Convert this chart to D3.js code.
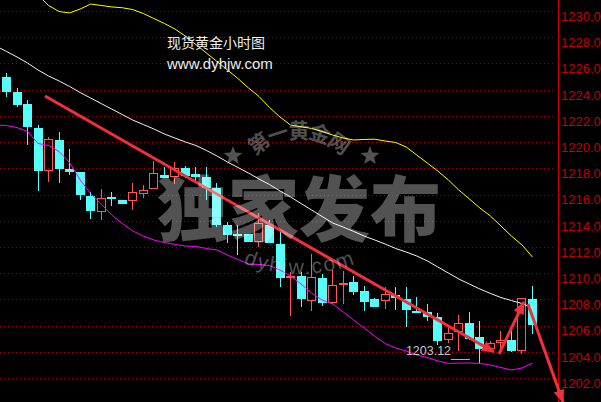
<!DOCTYPE html>
<html><head><meta charset="utf-8">
<script src="https://cdn.jsdelivr.net/npm/d3@7"></script>
<style>html,body{margin:0;padding:0;background:#000;overflow:hidden}</style>
</head><body>
<svg id="c" width="601" height="402"></svg>
<script>
// ---- data (XAU/USD hourly candles) ----
const opens  = [1224.96,1223.82,1222.90,1221.07,1217.79,1220.16,1217.95,1217.72,1215.89,1214.66,
                1215.81,1215.58,1215.50,1216.04,1216.42,1217.49,1217.34,1218.02,1217.56,1217.34,
                1216.50,1213.67,1212.99,1212.99,1212.38,1213.67,1212.22,1209.71,1209.78,1207.87,
                1209.63,1207.72,1209.10,1209.32,1208.64,1208.03,1207.87,1208.33,1208.03,1207.11,
                1207.04,1206.65,1204.90,1205.51,1206.20,1205.13,1204.21,1204.67,1204.90,1204.06,1208.03];
const highs  = [1225.27,1224.13,1223.21,1221.30,1220.39,1220.77,1219.47,1217.72,1216.19,1216.42,
                1216.19,1215.58,1216.88,1216.72,1218.56,1218.10,1218.48,1218.17,1218.10,1218.10,
                1216.88,1213.90,1213.67,1212.99,1214.59,1214.05,1213.29,1210.09,1210.09,1211.46,
                1209.93,1210.24,1210.16,1209.78,1209.02,1208.10,1208.94,1208.94,1208.94,1208.18,
                1207.65,1206.96,1206.04,1206.81,1207.04,1206.35,1204.82,1205.59,1205.59,1208.10,1209.02];
const lows   = [1223.44,1222.68,1219.78,1216.27,1216.95,1216.88,1217.49,1215.58,1214.13,1214.05,
                1215.12,1215.28,1214.82,1215.73,1216.42,1217.26,1216.80,1217.26,1216.88,1215.58,
                1213.52,1212.30,1211.38,1212.38,1211.99,1212.30,1208.94,1206.73,1207.42,1207.11,
                1207.49,1207.65,1207.65,1208.33,1207.11,1207.42,1207.26,1207.19,1205.89,1207.04,
                1206.35,1204.52,1204.67,1204.06,1204.90,1203.12,1204.13,1203.83,1203.98,1203.83,1205.36];
const closes = [1223.82,1222.83,1221.15,1217.79,1220.23,1217.95,1217.72,1215.96,1214.74,1215.73,
                1215.66,1215.28,1216.19,1216.34,1217.64,1217.26,1218.02,1217.41,1217.33,1216.50,
                1213.67,1212.91,1212.91,1212.38,1213.83,1212.30,1209.63,1209.79,1208.03,1209.71,
                1207.72,1209.10,1209.25,1208.56,1207.80,1207.42,1208.41,1208.10,1207.19,1207.04,
                1206.65,1204.82,1205.43,1206.20,1204.97,1204.21,1204.67,1204.90,1204.06,1208.10,1206.04];
// indicator lines, first value belongs to the bar before the first visible candle
const midLine   = [1227.33,1226.91,1226.49,1226.03,1225.50,1225.04,1224.66,1224.24,1223.78,1223.36,1222.94,
                   1222.52,1222.10,1221.68,1221.34,1221.00,1220.62,1220.31,1220.01,1219.74,1219.36,
                   1218.94,1218.48,1218.06,1217.64,1217.18,1216.76,1216.27,1215.81,1215.31,1214.82,
                   1214.32,1213.83,1213.52,1213.18,1212.83,1212.53,1212.22,1211.88,1211.61,1211.31,
                   1210.93,1210.47,1210.01,1209.55,1209.17,1208.79,1208.45,1208.14,1207.91,1207.68,1207.34];
const upperLine = [1234.65,1233.89,1233.13,1232.21,1231.22,1230.42,1229.96,1229.85,1230.15,1230.53,1230.42,
                   1230.31,1230.25,1230.11,1229.81,1229.43,1229.05,1228.63,1228.09,1227.44,1226.80,
                   1226.15,1225.50,1224.85,1224.13,1223.48,1222.64,1221.91,1221.30,1221.17,1221.04,
                   1220.81,1220.54,1220.31,1220.16,1220.20,1220.22,1220.08,1219.97,1219.62,1219.01,
                   1218.40,1217.79,1217.11,1216.34,1215.66,1214.97,1214.36,1213.60,1212.83,1212.15,1211.23];
const lowerLine = [1221.30,1221.26,1221.11,1220.81,1219.89,1219.74,1219.28,1218.44,1217.11,1216.08,1215.28,
                   1214.44,1213.79,1213.22,1212.83,1212.53,1212.34,1212.19,1212.07,1212.03,1211.88,
                   1211.77,1211.38,1211.04,1210.70,1210.66,1210.58,1210.24,1209.78,1209.17,1208.48,
                   1207.95,1207.65,1207.04,1206.42,1205.81,1205.20,1204.63,1204.29,1204.06,1203.75,
                   1203.56,1203.30,1203.11,1203.14,1203.14,1203.11,1202.99,1202.80,1202.61,1202.76,1203.14];
const yTicks = [1202,1204,1206,1208,1210,1212,1214,1216,1218,1220,1222,1224,1226,1228,1230];
// hand-drawn arrows (bar index, price)
const arrowFrom = [[3.66,1223.51],[46.82,1203.83],[49.57,1207.65]];
const arrowTo   = [[46.34,1203.98],[49.19,1207.80],[52.90,1200.17]];
const titleText = "现货黄金小时图";
const siteText = "www.dyhjw.com";
const lowLabel = "1203.12";
const wmArc = ["第","一","黄","金","网"];
const wmMain = "独家发布";
const wmSite = "dyhjw.com";

// ---- drawing ----
const W = 601, H = 402, plotRight = 557, axisX = 558;
const svg = d3.select("#c");
svg.append("rect").attr("width", W).attr("height", H).attr("fill", "#000");

const x = d3.scaleLinear().domain([0, 50]).range([6.5, 532.5]);
const y = d3.scaleLinear().domain([1202, 1230]).range([378, 11]);

const defs = svg.append("defs");
defs.append("clipPath").attr("id", "plot").append("rect")
  .attr("x", 0).attr("y", 0).attr("width", plotRight).attr("height", H);
defs.append("marker").attr("id", "ah").attr("viewBox", "0 0 13 11")
  .attr("refX", 12).attr("refY", 5.5).attr("markerWidth", 13).attr("markerHeight", 11)
  .attr("markerUnits", "userSpaceOnUse").attr("orient", "auto")
  .append("path").attr("d", "M0,0 L13,5.5 L0,11 Z").attr("fill", "#f2303c");

// grid
svg.append("g").selectAll("line").data(yTicks).join("line")
  .attr("x1", 0).attr("x2", plotRight - 1)
  .attr("y1", d => Math.round(y(d)) + 0.5).attr("y2", d => Math.round(y(d)) + 0.5)
  .attr("stroke", "#a00000").attr("stroke-width", 1).attr("stroke-dasharray", "1,3");

// right axis
svg.append("line").attr("x1", axisX + 0.5).attr("x2", axisX + 0.5).attr("y1", 0).attr("y2", H)
  .attr("stroke", "#d00000").attr("stroke-width", 1);
const ax = svg.append("g").attr("transform", `translate(${axisX},0)`)
  .call(d3.axisRight(y).tickValues(yTicks).tickFormat(d => d.toFixed(1)).tickSize(0).tickPadding(3));
ax.select(".domain").remove();
ax.selectAll("text").attr("fill", "#c40000").attr("font-family", "Liberation Sans, Arial, sans-serif")
  .attr("font-size", 13).attr("dy", "0.72em");

// candles
const idx = d3.range(opens.length);
const cyan = "#55fdfd", red = "#ff5656";
const cg = svg.append("g").attr("clip-path", "url(#plot)");
idx.forEach(i => {
  const up = closes[i] >= opens[i];
  const left = Math.round(x(i) - 4.5);
  const cx = left + 4.5;
  const top = Math.round(y(Math.max(opens[i], closes[i])));
  const bot = Math.round(y(Math.min(opens[i], closes[i])));
  const hTop = Math.round(y(highs[i])), lBot = Math.round(y(lows[i]));
  if (up) {
    const bh = Math.max(bot - top, 1);
    if (hTop < top) cg.append("line").attr("x1", cx).attr("x2", cx).attr("y1", hTop).attr("y2", top)
      .attr("stroke", red);
    if (lBot > top + bh) cg.append("line").attr("x1", cx).attr("x2", cx).attr("y1", top + bh).attr("y2", lBot)
      .attr("stroke", red);
    if (bh <= 2) {
      cg.append("rect").attr("x", left).attr("y", top).attr("width", 9).attr("height", 2).attr("fill", red);
    } else {
      cg.append("rect").attr("x", left + 0.5).attr("y", top + 0.5).attr("width", 8).attr("height", bh - 1)
        .attr("fill", "none").attr("stroke", red);
    }
  } else {
    cg.append("line").attr("x1", cx).attr("x2", cx).attr("y1", hTop).attr("y2", lBot).attr("stroke", cyan);
    cg.append("rect").attr("x", left).attr("y", top).attr("width", 9).attr("height", Math.max(bot - top, 2))
      .attr("fill", cyan);
  }
});

// indicator lines
const line = d3.line().x((d, i) => x(i - 1)).y(d => y(d));
const lg = svg.append("g").attr("clip-path", "url(#plot)").attr("fill", "none").attr("stroke-width", 1);
lg.append("path").attr("d", line(upperLine)).attr("stroke", "#ffff00");
lg.append("path").attr("d", line(midLine)).attr("stroke", "#f4f4f4");
lg.append("path").attr("d", line(lowerLine)).attr("stroke", "#ff00ff");

// low marker
const li = d3.minIndex(lows);
const lx = x(li), ly = y(lows[li]);
svg.append("line").attr("x1", lx - 29).attr("x2", lx - 10).attr("y1", Math.round(ly - 4) + 0.5)
  .attr("y2", Math.round(ly - 4) + 0.5).attr("stroke", "#b0b0b0");
svg.append("text").attr("x", lx - 74).attr("y", ly - 8.5).text(lowLabel)
  .attr("fill", "#c4c8cc").attr("font-family", "Liberation Sans, Arial, sans-serif").attr("font-size", 12.5);

// arrows
svg.append("g").selectAll("line").data(arrowFrom).join("line")
  .attr("x1", d => x(d[0])).attr("y1", d => y(d[1]))
  .attr("x2", (d, i) => x(arrowTo[i][0])).attr("y2", (d, i) => y(arrowTo[i][1]))
  .attr("stroke", "#f2303c").attr("stroke-width", 3).attr("marker-end", "url(#ah)");

// titles
svg.append("text").attr("x", 167).attr("y", 48).text(titleText).attr("fill", "#eeeeee")
  .attr("font-family", "Noto Sans CJK SC, sans-serif").attr("font-size", 14);
svg.append("text").attr("x", 167).attr("y", 69).text(siteText).attr("fill", "#eeeeee")
  .attr("font-family", "Liberation Sans, Arial, sans-serif").attr("font-size", 15);

// watermark
const wm = svg.append("g").attr("fill", "#ffffff").attr("fill-opacity", 0.32);
const acx = 299, acy = 199, aR = 70;
wmArc.forEach((ch, k) => {
  const a = (k - 2) * 18;
  const r = a * Math.PI / 180;
  const px = acx + aR * Math.sin(r), py = acy - aR * Math.cos(r);
  wm.append("text").attr("transform", `translate(${px},${py}) rotate(${a})`)
    .attr("text-anchor", "middle").attr("dominant-baseline", "central")
    .attr("font-family", "Noto Sans CJK SC, sans-serif").attr("font-weight", 700).attr("font-size", 21).text(ch);
});
function star(cx, cy, R, r) {
  const pts = d3.range(10).map(k => {
    const ang = -Math.PI / 2 + k * Math.PI / 5, rr = k % 2 ? r : R;
    return [cx + rr * Math.cos(ang), cy + rr * Math.sin(ang)];
  });
  return "M" + pts.map(p => p.join(",")).join("L") + "Z";
}
wm.append("path").attr("d", star(233, 156, 10, 4.2));
wm.append("path").attr("d", star(370, 156, 10, 4.2));
wm.append("text").attr("x", 299).attr("y", 204).attr("text-anchor", "middle").attr("dominant-baseline", "central")
  .attr("font-family", "Noto Sans CJK SC, sans-serif").attr("font-weight", 900).attr("font-size", 71).text(wmMain);
const phi = 40 * Math.PI / 180, bR = 152, bcx = 300, bcy = 122;
defs.append("path").attr("id", "barc")
  .attr("d", `M${bcx - bR * Math.sin(phi)},${bcy + bR * Math.cos(phi)} A${bR},${bR} 0 0 0 ${bcx + bR * Math.sin(phi)},${bcy + bR * Math.cos(phi)}`);
wm.append("text").attr("font-family", "Liberation Sans, Arial, sans-serif").attr("font-size", 21)
  .attr("letter-spacing", 2)
  .append("textPath").attr("href", "#barc").attr("startOffset", "50%").attr("text-anchor", "middle").text(wmSite);
</script>
</body></html>
